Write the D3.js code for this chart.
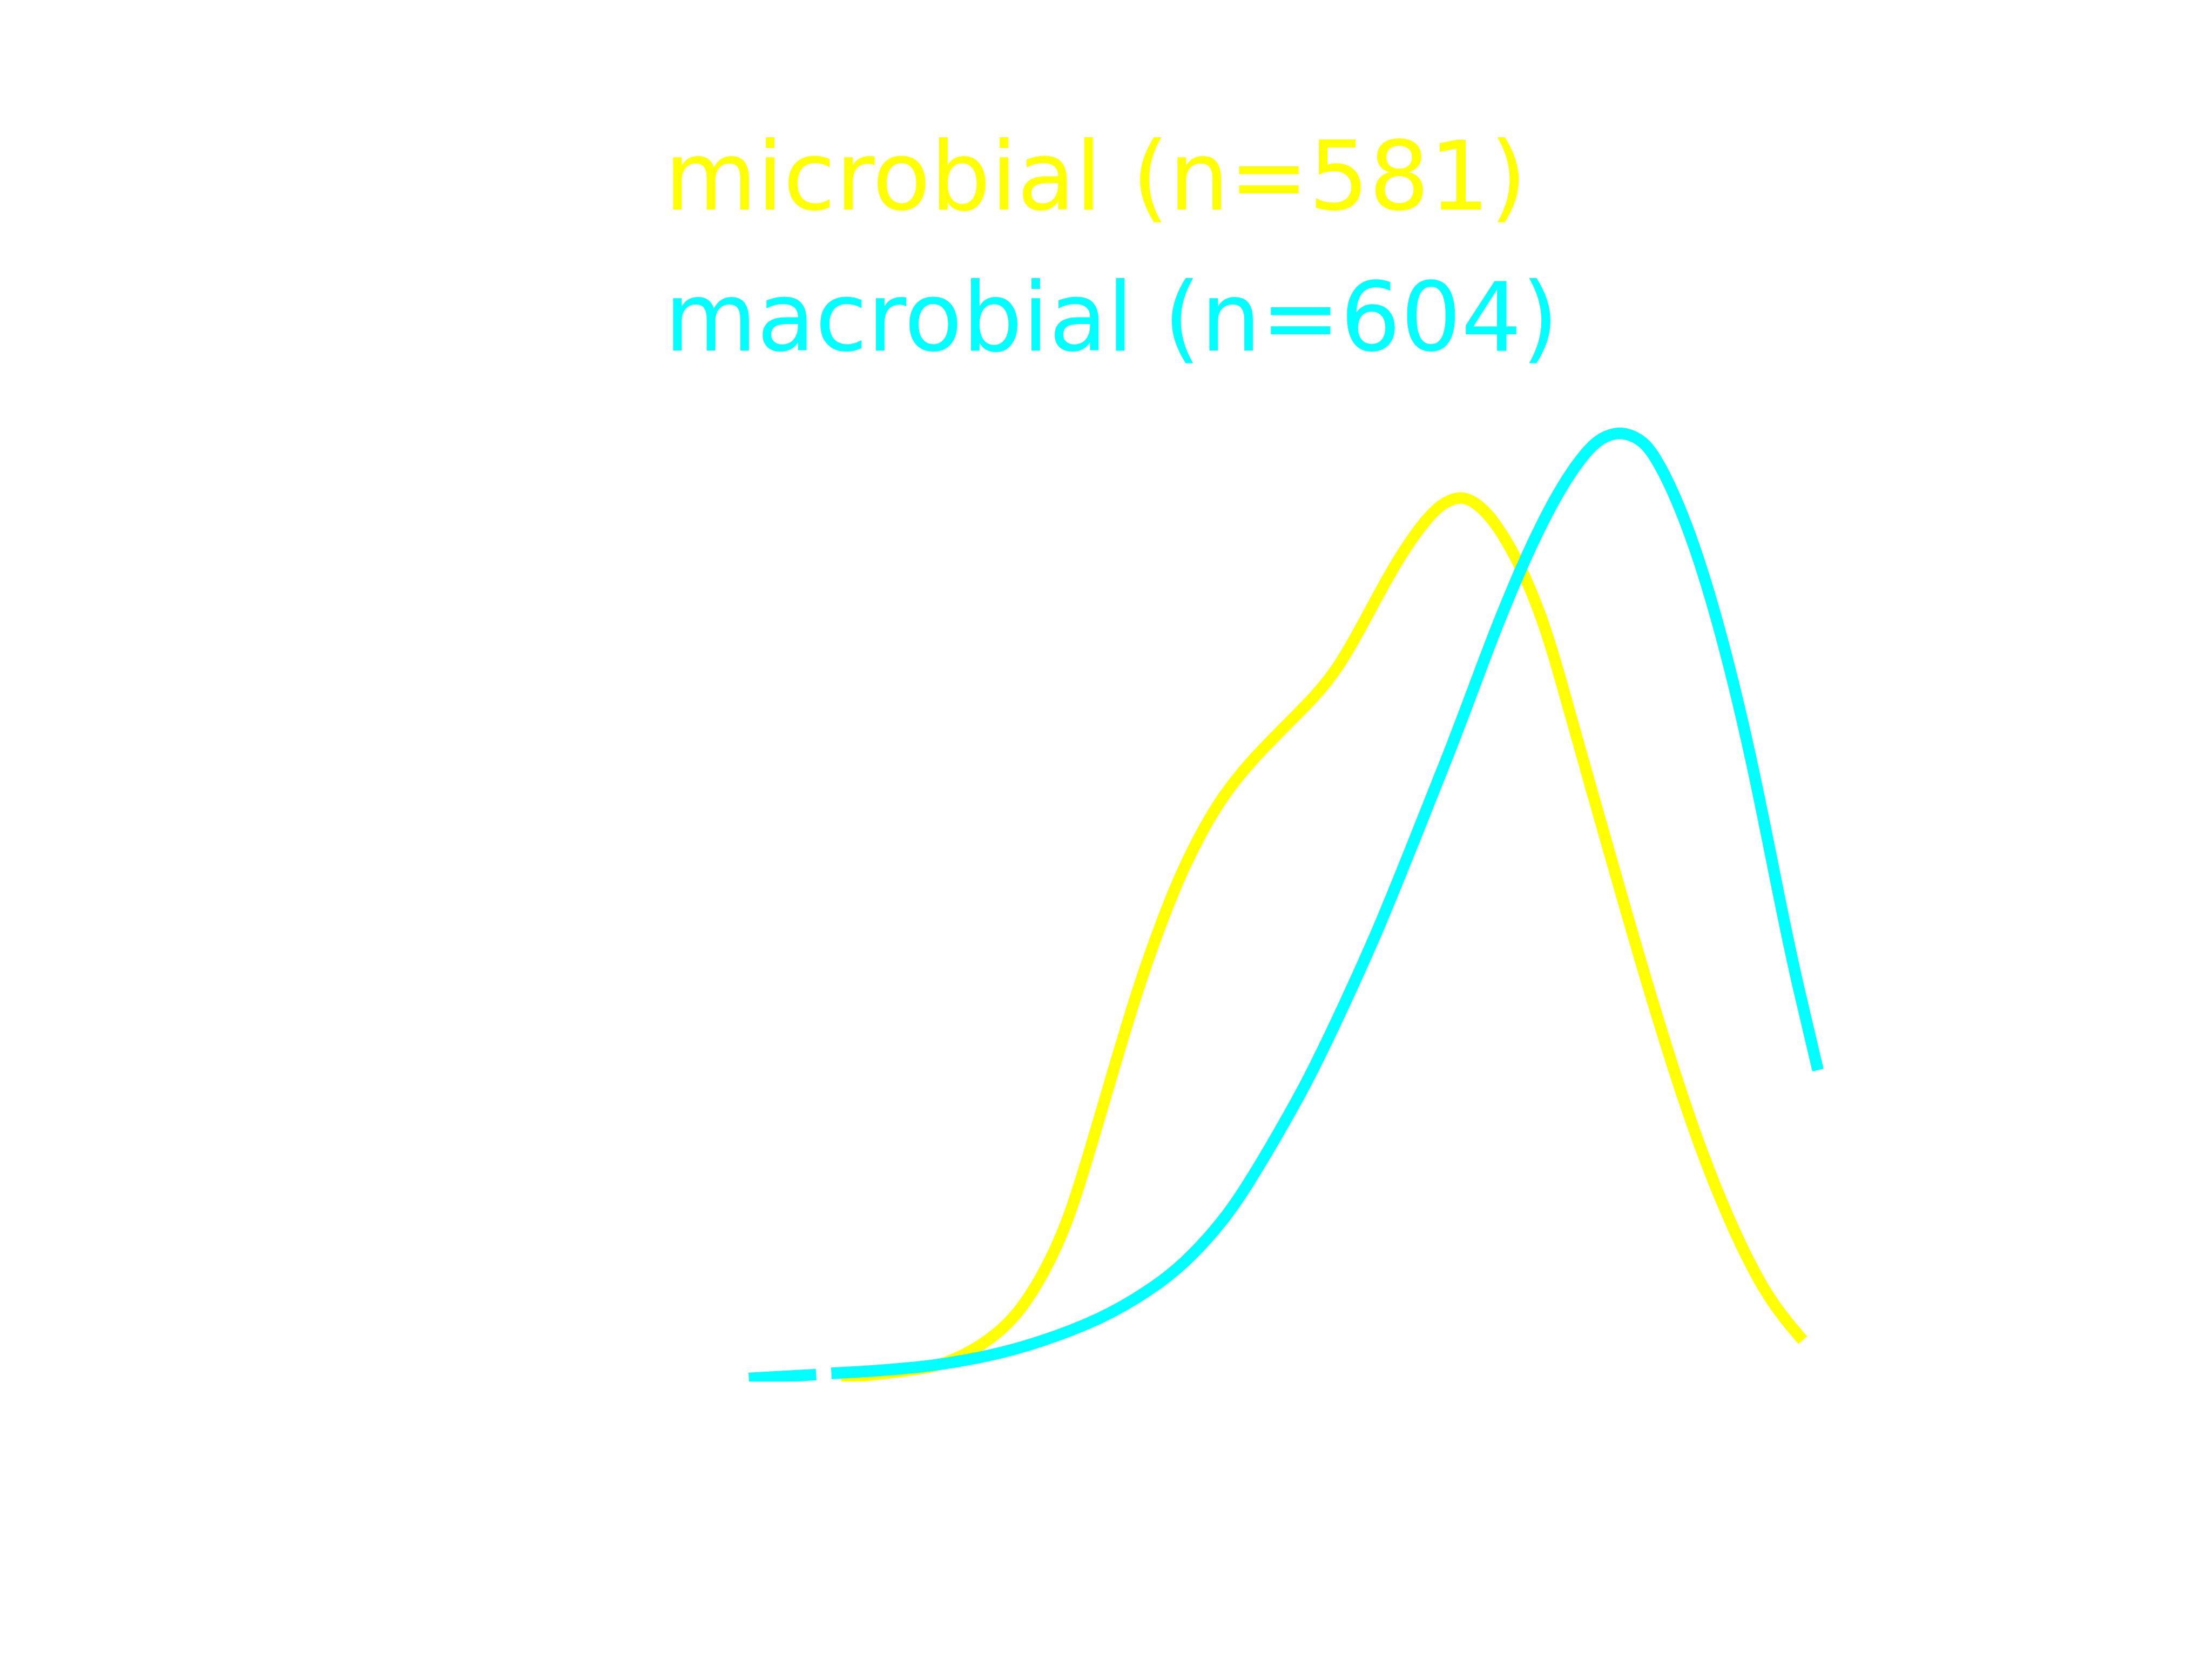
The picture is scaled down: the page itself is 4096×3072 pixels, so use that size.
<!DOCTYPE html>
<html>
<head>
<meta charset="utf-8">
<script src="https://cdn.jsdelivr.net/npm/d3@7"></script>
<style>
html, body { margin: 0; padding: 0; background: #ffffff; }
svg { display: block; }
</style>
</head>
<body>
<script>
// ---- Data (x and density in plot units) ----
const seriesNames = ["microbial (n=581)", "macrobial (n=604)"];
const seriesColors = ["#ffff00", "#00ffff"];

const microbialX = [0.862, 1.185, 1.616, 1.793, 2.047, 2.263, 2.478, 2.698, 2.983, 3.254, 3.448, 3.647, 3.845, 4.043, 4.241, 4.440, 4.703, 5.034, 5.297, 5.513, 5.759, 6.060, 6.362, 6.517, 6.668, 6.810, 6.970, 7.211, 7.422, 7.569, 7.871, 8.172, 8.345, 8.647, 8.948, 9.254, 9.556, 9.858];
const microbialY = [0.0034, 0.0073, 0.0136, 0.0175, 0.0296, 0.0451, 0.0660, 0.1009, 0.1640, 0.2683, 0.3426, 0.4168, 0.4799, 0.5357, 0.5803, 0.6177, 0.6545, 0.6919, 0.7215, 0.7511, 0.8006, 0.8651, 0.9127, 0.9267, 0.9326, 0.9248, 0.9073, 0.8617, 0.8040, 0.7496, 0.6269, 0.5085, 0.4406, 0.3280, 0.2295, 0.1475, 0.0830, 0.0437];

// null marks the small break visible in the macrobial line near its left end
const macrobialX = [0.000, 0.629, 0.700, 0.772, 1.185, 1.616, 1.793, 2.246, 2.698, 3.306, 3.759, 4.073, 4.440, 4.677, 4.901, 5.233, 5.560, 5.892, 6.220, 6.552, 6.849, 6.970, 7.241, 7.573, 7.875, 8.022, 8.159, 8.323, 8.474, 8.776, 9.078, 9.379, 9.638, 9.797, 10.000];
const macrobialY = [0.0034, 0.0073, null, 0.0087, 0.0112, 0.0155, 0.0180, 0.0267, 0.0403, 0.0660, 0.0966, 0.1237, 0.1689, 0.2091, 0.2513, 0.3168, 0.3945, 0.4765, 0.5691, 0.6618, 0.7511, 0.7875, 0.8627, 0.9394, 0.9864, 0.9961, 1.0000, 0.9937, 0.9777, 0.9059, 0.7972, 0.6574, 0.5085, 0.4236, 0.3280];

// ---- Layout ----
const W = 4096, H = 3072;
const k = 4096 / 4800;

const svg = d3.select("body").append("svg")
  .attr("width", W).attr("height", H)
  .attr("viewBox", `0 0 ${W} ${H}`);

svg.append("rect").attr("width", W).attr("height", H).attr("fill", "#ffffff");

const x = d3.scaleLinear().domain([0, 10]).range([1625 * k, 3945 * k]);
const y = d3.scaleLinear().domain([0, 1]).range([2998 * k, 937 * k]);

svg.append("defs").append("clipPath").attr("id", "plotclip")
  .append("rect")
  .attr("x", 0).attr("y", 0)
  .attr("width", W).attr("height", y(0));

const line = d3.line()
  .defined(d => d.y !== null)
  .x(d => x(d.x))
  .y(d => y(d.y))
  .curve(d3.curveBasis);

const series = [
  { name: seriesNames[0], color: seriesColors[0], pts: microbialX.map((v, i) => ({ x: v, y: microbialY[i] })) },
  { name: seriesNames[1], color: seriesColors[1], pts: macrobialX.map((v, i) => ({ x: v, y: macrobialY[i] })) }
];

const g = svg.append("g").attr("clip-path", "url(#plotclip)");
g.selectAll("path.curve").data(series).enter().append("path")
  .attr("class", "curve")
  .attr("d", d => line(d.pts))
  .attr("fill", "none")
  .attr("stroke", d => d.color)
  .attr("stroke-width", 25 * k)
  .attr("stroke-linecap", "butt")
  .attr("stroke-linejoin", "round");

// ---- Legend texts ----
const legendX = 1442 * k;
const legendBaselines = [455 * k, 761 * k];
svg.selectAll("text.legend").data(series).enter().append("text")
  .attr("class", "legend")
  .attr("x", legendX)
  .attr("y", (d, i) => legendBaselines[i])
  .attr("fill", d => d.color)
  .attr("font-family", "'DejaVu Sans', sans-serif")
  .attr("font-size", 206 * k)
  .text(d => d.name);
</script>
</body>
</html>
